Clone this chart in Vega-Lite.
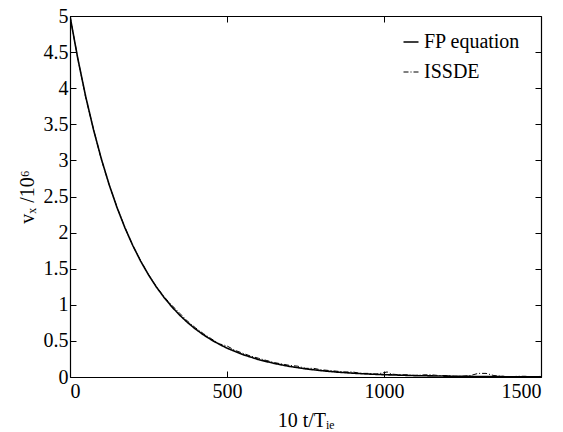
{
  "$schema": "https://vega.github.io/schema/vega-lite/v6.json",
  "width": 471,
  "height": 361,
  "autosize": {"type": "none"},
  "padding": {"left": 70, "top": 16, "right": 22, "bottom": 55},
  "background": "white",
  "view": {"stroke": null},
  "config": {
    "font": "'Liberation Serif', 'Times New Roman', serif",
    "axis": {
      "domainColor": "black",
      "domainWidth": 1.2,
      "tickColor": "black",
      "tickWidth": 1,
      "tickSize": -6,
      "labelFont": "'Liberation Serif', 'Times New Roman', serif",
      "labelFontSize": 20,
      "labelColor": "black",
      "titleFont": "'Liberation Serif', 'Times New Roman', serif",
      "titleFontSize": 20,
      "titleColor": "black",
      "titleFontWeight": "normal",
      "grid": false,
      "labelPadding": 8
    },
    "legend": {
      "labelFont": "'Liberation Serif', 'Times New Roman', serif",
      "labelFontSize": 20,
      "labelColor": "black"
    }
  },
  "datasets": {
    "curves": [
      {"t": 0, "v": 5.0, "s": "FP equation"},
      {"t": 25, "v": 4.407, "s": "FP equation"},
      {"t": 50, "v": 3.884, "s": "FP equation"},
      {"t": 75, "v": 3.424, "s": "FP equation"},
      {"t": 100, "v": 3.018, "s": "FP equation"},
      {"t": 125, "v": 2.66, "s": "FP equation"},
      {"t": 150, "v": 2.344, "s": "FP equation"},
      {"t": 175, "v": 2.066, "s": "FP equation"},
      {"t": 200, "v": 1.821, "s": "FP equation"},
      {"t": 225, "v": 1.605, "s": "FP equation"},
      {"t": 250, "v": 1.415, "s": "FP equation"},
      {"t": 275, "v": 1.247, "s": "FP equation"},
      {"t": 300, "v": 1.099, "s": "FP equation"},
      {"t": 325, "v": 0.969, "s": "FP equation"},
      {"t": 350, "v": 0.854, "s": "FP equation"},
      {"t": 375, "v": 0.752, "s": "FP equation"},
      {"t": 400, "v": 0.663, "s": "FP equation"},
      {"t": 425, "v": 0.584, "s": "FP equation"},
      {"t": 450, "v": 0.515, "s": "FP equation"},
      {"t": 475, "v": 0.454, "s": "FP equation"},
      {"t": 500, "v": 0.4, "s": "FP equation"},
      {"t": 550, "v": 0.311, "s": "FP equation"},
      {"t": 600, "v": 0.242, "s": "FP equation"},
      {"t": 650, "v": 0.188, "s": "FP equation"},
      {"t": 700, "v": 0.146, "s": "FP equation"},
      {"t": 750, "v": 0.113, "s": "FP equation"},
      {"t": 800, "v": 0.088, "s": "FP equation"},
      {"t": 850, "v": 0.068, "s": "FP equation"},
      {"t": 900, "v": 0.053, "s": "FP equation"},
      {"t": 950, "v": 0.041, "s": "FP equation"},
      {"t": 1000, "v": 0.032, "s": "FP equation"},
      {"t": 1100, "v": 0.019, "s": "FP equation"},
      {"t": 1200, "v": 0.012, "s": "FP equation"},
      {"t": 1300, "v": 0.007, "s": "FP equation"},
      {"t": 1400, "v": 0.004, "s": "FP equation"},
      {"t": 1500, "v": 0.003, "s": "FP equation"},
      {"t": 0, "v": 5.0, "s": "ISSDE"},
      {"t": 25, "v": 4.41, "s": "ISSDE"},
      {"t": 50, "v": 3.87, "s": "ISSDE"},
      {"t": 75, "v": 3.43, "s": "ISSDE"},
      {"t": 100, "v": 3.01, "s": "ISSDE"},
      {"t": 125, "v": 2.66, "s": "ISSDE"},
      {"t": 150, "v": 2.35, "s": "ISSDE"},
      {"t": 175, "v": 2.07, "s": "ISSDE"},
      {"t": 200, "v": 1.82, "s": "ISSDE"},
      {"t": 225, "v": 1.61, "s": "ISSDE"},
      {"t": 250, "v": 1.42, "s": "ISSDE"},
      {"t": 275, "v": 1.25, "s": "ISSDE"},
      {"t": 300, "v": 1.11, "s": "ISSDE"},
      {"t": 325, "v": 0.99, "s": "ISSDE"},
      {"t": 350, "v": 0.88, "s": "ISSDE"},
      {"t": 375, "v": 0.77, "s": "ISSDE"},
      {"t": 400, "v": 0.68, "s": "ISSDE"},
      {"t": 425, "v": 0.6, "s": "ISSDE"},
      {"t": 450, "v": 0.53, "s": "ISSDE"},
      {"t": 475, "v": 0.46, "s": "ISSDE"},
      {"t": 500, "v": 0.43, "s": "ISSDE"},
      {"t": 525, "v": 0.37, "s": "ISSDE"},
      {"t": 550, "v": 0.33, "s": "ISSDE"},
      {"t": 575, "v": 0.29, "s": "ISSDE"},
      {"t": 600, "v": 0.26, "s": "ISSDE"},
      {"t": 625, "v": 0.23, "s": "ISSDE"},
      {"t": 650, "v": 0.2, "s": "ISSDE"},
      {"t": 675, "v": 0.18, "s": "ISSDE"},
      {"t": 700, "v": 0.16, "s": "ISSDE"},
      {"t": 725, "v": 0.15, "s": "ISSDE"},
      {"t": 750, "v": 0.12, "s": "ISSDE"},
      {"t": 775, "v": 0.12, "s": "ISSDE"},
      {"t": 800, "v": 0.1, "s": "ISSDE"},
      {"t": 825, "v": 0.09, "s": "ISSDE"},
      {"t": 850, "v": 0.08, "s": "ISSDE"},
      {"t": 875, "v": 0.07, "s": "ISSDE"},
      {"t": 900, "v": 0.07, "s": "ISSDE"},
      {"t": 925, "v": 0.05, "s": "ISSDE"},
      {"t": 950, "v": 0.05, "s": "ISSDE"},
      {"t": 975, "v": 0.04, "s": "ISSDE"},
      {"t": 1000, "v": 0.06, "s": "ISSDE"},
      {"t": 1010, "v": 0.07, "s": "ISSDE"},
      {"t": 1025, "v": 0.04, "s": "ISSDE"},
      {"t": 1050, "v": 0.03, "s": "ISSDE"},
      {"t": 1075, "v": 0.03, "s": "ISSDE"},
      {"t": 1100, "v": 0.02, "s": "ISSDE"},
      {"t": 1125, "v": 0.03, "s": "ISSDE"},
      {"t": 1150, "v": 0.03, "s": "ISSDE"},
      {"t": 1175, "v": 0.02, "s": "ISSDE"},
      {"t": 1200, "v": 0.02, "s": "ISSDE"},
      {"t": 1225, "v": 0.01, "s": "ISSDE"},
      {"t": 1250, "v": 0.01, "s": "ISSDE"},
      {"t": 1275, "v": 0.02, "s": "ISSDE"},
      {"t": 1300, "v": 0.05, "s": "ISSDE"},
      {"t": 1325, "v": 0.05, "s": "ISSDE"},
      {"t": 1350, "v": 0.02, "s": "ISSDE"},
      {"t": 1375, "v": 0.01, "s": "ISSDE"},
      {"t": 1400, "v": 0.0, "s": "ISSDE"},
      {"t": 1425, "v": 0.01, "s": "ISSDE"},
      {"t": 1450, "v": 0.01, "s": "ISSDE"},
      {"t": 1475, "v": 0.0, "s": "ISSDE"},
      {"t": 1500, "v": 0.01, "s": "ISSDE"}
    ]
  },
  "data": {"name": "curves"},
  "layer": [
    {
      "mark": {"type": "line", "clip": true},
      "encoding": {
        "x": {
          "field": "t", "type": "quantitative",
          "scale": {"domain": [0, 1500], "nice": false, "zero": false},
          "axis": {"orient": "bottom", "values": [0, 500, 1000, 1500], "format": "d", "title": "10 t/Tᵢₑ", "labelPadding": 10, "titlePadding": 9}
        },
        "y": {
          "field": "v", "type": "quantitative",
          "scale": {"domain": [0, 5], "nice": false},
          "axis": {"orient": "left", "values": [0, 0.5, 1, 1.5, 2, 2.5, 3, 3.5, 4, 4.5, 5], "format": "~g", "title": "vₓ /10⁶", "titlePadding": 6}
        },
        "color": {
          "field": "s", "type": "nominal",
          "scale": {"domain": ["FP equation", "ISSDE"], "range": ["black", "black"]},
          "legend": {"title": null, "orient": "none", "legendX": 331, "legendY": 16, "symbolType": "stroke", "symbolSize": 225, "rowPadding": 10, "labelOffset": 3, "symbolStrokeWidth": 1.5}
        },
        "strokeDash": {
          "field": "s", "type": "nominal",
          "scale": {"domain": ["FP equation", "ISSDE"], "range": [[1, 0], [5, 2, 1, 2]]},
          "legend": {"title": null, "orient": "none", "legendX": 331, "legendY": 16, "symbolType": "stroke", "symbolSize": 225, "rowPadding": 10, "labelOffset": 3}
        },
        "strokeWidth": {
          "field": "s", "type": "nominal",
          "scale": {"domain": ["FP equation", "ISSDE"], "range": [1.6, 1]},
          "legend": null
        }
      }
    },
    {
      "mark": {"type": "point", "opacity": 0},
      "encoding": {
        "x": {
          "field": "t", "type": "quantitative",
          "axis": {"orient": "top", "values": [0, 500, 1000, 1500], "labels": false, "title": null}
        },
        "y": {
          "field": "v", "type": "quantitative",
          "axis": {"orient": "right", "values": [0, 0.5, 1, 1.5, 2, 2.5, 3, 3.5, 4, 4.5, 5], "labels": false, "title": null}
        }
      }
    }
  ],
  "resolve": {"axis": {"x": "independent", "y": "independent"}}
}
